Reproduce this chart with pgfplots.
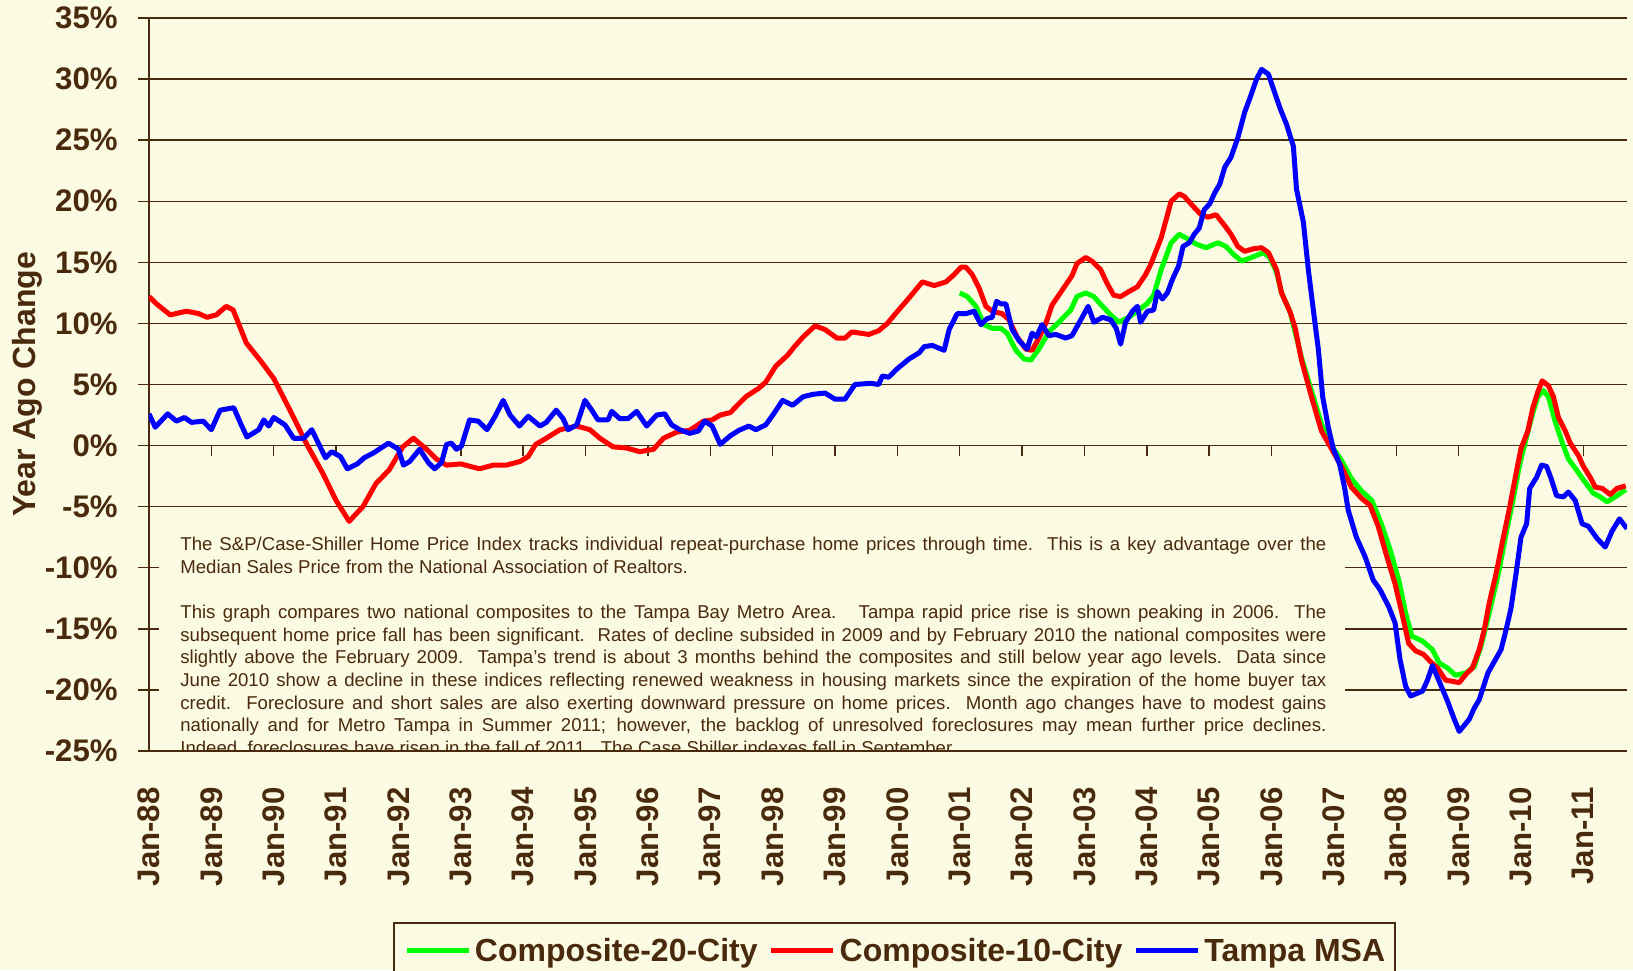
\documentclass[border=0pt]{standalone}
\usepackage{fontspec}
\setmainfont{Liberation Sans}
\usepackage{pgfplots}
\pgfplotsset{compat=1.18}
\definecolor{bg}{HTML}{FBFAE3}
\definecolor{tx}{HTML}{4A2A0C}
\definecolor{cg}{HTML}{00FF00}
\definecolor{cr}{HTML}{FF0000}
\definecolor{cb}{HTML}{0000FF}
\begin{document}
\begin{tikzpicture}
\fill[bg] (-74.5pt,-109.5pt) rectangle (742pt,375.5pt);
\begin{axis}[
  at={(0pt,0pt)}, anchor=south west,
  scale only axis, width=739pt, height=366.5pt,
  xmin=1988, xmax=2011.7, ymin=-25, ymax=35,
  axis lines*=left,
  axis line style={tx, line width=0.7pt},
  ytick={-25,-20,...,35},
  ymajorgrids, grid style={tx, line width=0.7pt},
  xtick={1988,...,2011},
  xticklabels={Jan-88,Jan-89,Jan-90,Jan-91,Jan-92,Jan-93,Jan-94,Jan-95,Jan-96,Jan-97,Jan-98,Jan-99,Jan-00,Jan-01,Jan-02,Jan-03,Jan-04,Jan-05,Jan-06,Jan-07,Jan-08,Jan-09,Jan-10,Jan-11},
  x tick style={draw=none},
  y tick style={tx, line width=0.7pt},
  major tick length=5.5pt, tick align=outside,
  yticklabel={\pgfmathprintnumber{\tick}\%},
  /pgf/number format/assume math mode=true,
  tick label style={font=\bfseries\fontsize{15.6}{18}\selectfont, text=tx},
  xticklabel style={rotate=90, anchor=east, inner sep=0pt},
  yticklabel style={anchor=east, inner sep=0pt},
  xticklabel shift=12.5pt, yticklabel shift=10pt,
  legend columns=-1,
  legend style={
    at={(axis description cs:0,0)}, anchor=north west, xshift=122pt, yshift=-85.5pt,
    draw=tx, line width=1pt, fill=bg,
    font=\bfseries\fontsize{16}{19}\selectfont, text=tx,
    inner xsep=5pt, inner ysep=7.7pt,
    nodes={inner sep=0pt, text height=11.6pt, text depth=0pt},
    /tikz/every odd column/.append style={column sep=2pt},
    /tikz/every even column/.append style={column sep=5.5pt},
  },
  legend image code/.code={\draw[#1, line width=2.5pt] (0pt,0pt) -- (31pt,0pt);},
]
% text box
\fill[bg] (rel axis cs:0.00677,0) rectangle (rel axis cs:0.8092,0.3056);
\begin{scope}
\clip (rel axis cs:0,0) rectangle (rel axis cs:1,1);
\node[anchor=north west, inner sep=0pt, text width=573pt, align=justify,
      font=\fontsize{9.3}{11.3}\selectfont, text=tx] at (rel axis cs:0.02097,0.2920) {%
The S\&P/Case-Shiller Home Price Index tracks individual repeat-purchase home prices through time.\ \ This is a key advantage over the\linebreak
Median Sales Price from the National Association of Realtors.\par\vspace{11.3pt}
This graph compares two national composites to the Tampa Bay Metro Area.\ \ \ Tampa rapid price rise is shown peaking in 2006.\ \ The\linebreak
subsequent home price fall has been significant.\ \ Rates of decline subsided in 2009 and by February 2010 the national composites were\linebreak
slightly above the February 2009.\ \ Tampa’s trend is about 3 months behind the composites and still below year ago levels.\ \ Data since\linebreak
June 2010 show a decline in these indices reflecting renewed weakness in housing markets since the expiration of the home buyer tax\linebreak
credit.\ \ Foreclosure and short sales are also exerting downward pressure on home prices.\ \ Month ago changes have to modest gains\linebreak
nationally and for Metro Tampa in Summer 2011; however, the backlog of unresolved foreclosures may mean further price declines.\linebreak
Indeed, foreclosures have risen in the fall of 2011.\ \ The Case Shiller indexes fell in September.};
\end{scope}
\draw[tx, line width=0.7pt] (rel axis cs:0,0) -- (rel axis cs:1,0);
\pgfplotsinvokeforeach{1989,...,2011}{\draw[tx, line width=0.7pt] (axis cs:#1,0) -- ++(0pt,-5.3pt);}

% Composite-20-City
\addplot[cg, line width=2.5pt, line join=round] coordinates {
(2001.0,12.5) (2001.12,12.2) (2001.26,11.4) (2001.39,9.9) (2001.52,9.6) (2001.66,9.6) (2001.76,9.2) (2001.9,7.8) (2002.03,7.1) (2002.14,7.0) (2002.27,7.9) (2002.43,9.3) (2002.59,10.1) (2002.78,11.1) (2002.88,12.2) (2003.02,12.5) (2003.15,12.2) (2003.29,11.4) (2003.42,10.7) (2003.55,10.1) (2003.71,10.5) (2003.87,11.1) (2004.0,11.6) (2004.11,12.3) (2004.23,14.4) (2004.39,16.6) (2004.52,17.3) (2004.66,16.9) (2004.79,16.5) (2004.95,16.2) (2005.14,16.6) (2005.27,16.3) (2005.38,15.7) (2005.52,15.1) (2005.68,15.4) (2005.87,15.8) (2005.97,15.4) (2006.08,14.2) (2006.16,12.5) (2006.3,10.9) (2006.48,7.2) (2006.62,4.8) (2006.8,1.8) (2006.96,0.0) (2007.12,-1.2) (2007.28,-2.7) (2007.44,-3.7) (2007.61,-4.5) (2007.76,-6.4) (2007.9,-8.5) (2008.04,-11.0) (2008.15,-13.7) (2008.25,-15.6) (2008.42,-16.0) (2008.58,-16.7) (2008.69,-17.8) (2008.82,-18.2) (2008.95,-18.8) (2009.12,-18.6) (2009.25,-18.1) (2009.36,-16.4) (2009.49,-13.7) (2009.65,-10.2) (2009.76,-7.2) (2009.87,-4.5) (2009.98,-1.5) (2010.09,0.7) (2010.19,2.7) (2010.27,4.0) (2010.36,4.5) (2010.44,4.0) (2010.54,2.1) (2010.65,0.4) (2010.76,-1.1) (2010.89,-2.0) (2011.0,-2.8) (2011.16,-3.9) (2011.27,-4.2) (2011.38,-4.6) (2011.51,-4.2) (2011.68,-3.6)
};
\addlegendentry{Composite-20-City}
% Composite-10-City
\addplot[cr, line width=2.5pt, line join=round] coordinates {
(1988.00,12.2) (1988.12,11.6) (1988.34,10.7) (1988.6,11.0) (1988.8,10.8) (1988.93,10.5) (1989.08,10.7) (1989.24,11.4) (1989.35,11.1) (1989.56,8.4) (1989.78,7.0) (1990.0,5.5) (1990.15,4.0) (1990.31,2.4) (1990.52,0.2) (1990.79,-2.3) (1991.0,-4.5) (1991.21,-6.2) (1991.43,-5.0) (1991.64,-3.1) (1991.85,-2.0) (1992.07,-0.1) (1992.24,0.6) (1992.45,-0.3) (1992.61,-1.1) (1992.77,-1.6) (1993.0,-1.5) (1993.3,-1.9) (1993.52,-1.6) (1993.73,-1.6) (1993.95,-1.3) (1994.08,-0.9) (1994.2,0.1) (1994.37,0.6) (1994.59,1.3) (1994.86,1.6) (1995.07,1.3) (1995.23,0.6) (1995.44,-0.1) (1995.66,-0.2) (1995.87,-0.5) (1996.09,-0.3) (1996.25,0.6) (1996.46,1.1) (1996.67,1.25) (1996.89,2.0) (1997.03,2.1) (1997.16,2.5) (1997.32,2.7) (1997.57,4.0) (1997.78,4.7) (1997.89,5.2) (1998.05,6.5) (1998.24,7.4) (1998.35,8.1) (1998.49,8.9) (1998.68,9.8) (1998.84,9.5) (1999.03,8.8) (1999.16,8.8) (1999.27,9.3) (1999.41,9.2) (1999.54,9.1) (1999.7,9.4) (1999.84,10.0) (1999.97,10.8) (2000.19,12.1) (2000.4,13.4) (2000.59,13.1) (2000.78,13.4) (2000.91,14.0) (2001.02,14.6) (2001.1,14.6) (2001.2,14.0) (2001.31,12.9) (2001.42,11.4) (2001.52,11.0) (2001.68,10.8) (2001.79,10.3) (2001.92,8.9) (2002.06,7.9) (2002.16,7.8) (2002.27,8.8) (2002.38,10.0) (2002.48,11.5) (2002.64,12.7) (2002.8,13.9) (2002.88,14.9) (2003.02,15.4) (2003.12,15.1) (2003.26,14.4) (2003.36,13.3) (2003.47,12.3) (2003.58,12.2) (2003.71,12.6) (2003.85,13.0) (2003.98,14.0) (2004.06,14.8) (2004.23,17.0) (2004.39,20.0) (2004.52,20.6) (2004.6,20.4) (2004.74,19.6) (2004.87,18.9) (2004.98,18.7) (2005.11,18.9) (2005.25,18.0) (2005.35,17.3) (2005.46,16.3) (2005.57,15.9) (2005.7,16.1) (2005.84,16.2) (2005.95,15.8) (2006.08,14.4) (2006.16,12.5) (2006.3,10.9) (2006.38,9.6) (2006.48,7.0) (2006.64,4.0) (2006.8,1.2) (2006.96,-0.25) (2007.12,-1.7) (2007.28,-3.4) (2007.44,-4.3) (2007.58,-4.9) (2007.71,-6.6) (2007.85,-9.1) (2007.98,-11.3) (2008.09,-13.7) (2008.2,-16.2) (2008.31,-16.8) (2008.44,-17.1) (2008.55,-17.7) (2008.66,-18.2) (2008.79,-19.2) (2009.01,-19.4) (2009.12,-18.7) (2009.22,-18.2) (2009.33,-16.7) (2009.41,-15.1) (2009.49,-12.9) (2009.6,-10.5) (2009.71,-7.7) (2009.82,-5.0) (2009.92,-2.3) (2010.0,-0.25) (2010.11,1.2) (2010.19,3.1) (2010.27,4.4) (2010.34,5.3) (2010.44,4.9) (2010.52,4.0) (2010.6,2.3) (2010.71,1.2) (2010.79,0.2) (2010.92,-0.8) (2011.0,-1.7) (2011.11,-2.6) (2011.19,-3.4) (2011.3,-3.5) (2011.43,-4.0) (2011.54,-3.5) (2011.68,-3.3)
};
\addlegendentry{Composite-10-City}
% Tampa MSA
\addplot[cb, line width=2.5pt, line join=round] coordinates {
(1988.0,2.6) (1988.1,1.5) (1988.3,2.6) (1988.44,2.0) (1988.57,2.3) (1988.68,1.9) (1988.87,2.0) (1989.0,1.3) (1989.14,2.9) (1989.36,3.1) (1989.47,1.8) (1989.57,0.7) (1989.76,1.3) (1989.84,2.1) (1989.92,1.6) (1990.0,2.3) (1990.18,1.7) (1990.32,0.6) (1990.48,0.6) (1990.61,1.3) (1990.83,-1.0) (1990.93,-0.5) (1991.07,-0.9) (1991.18,-1.9) (1991.34,-1.5) (1991.45,-1.0) (1991.6,-0.6) (1991.84,0.2) (1992.0,-0.3) (1992.08,-1.6) (1992.18,-1.3) (1992.34,-0.3) (1992.48,-1.4) (1992.58,-1.9) (1992.69,-1.4) (1992.77,0.1) (1992.85,0.2) (1992.93,-0.3) (1993.01,-0.05) (1993.14,2.1) (1993.28,2.0) (1993.42,1.3) (1993.55,2.4) (1993.68,3.7) (1993.79,2.5) (1993.94,1.6) (1994.08,2.4) (1994.27,1.6) (1994.37,1.9) (1994.53,2.9) (1994.64,2.2) (1994.72,1.3) (1994.86,1.7) (1994.99,3.7) (1995.1,2.9) (1995.2,2.1) (1995.36,2.1) (1995.42,2.8) (1995.55,2.2) (1995.68,2.2) (1995.82,2.8) (1995.98,1.6) (1996.14,2.5) (1996.27,2.6) (1996.38,1.7) (1996.51,1.3) (1996.67,1.0) (1996.81,1.2) (1996.91,2.0) (1997.03,1.6) (1997.16,0.1) (1997.32,0.8) (1997.46,1.25) (1997.62,1.6) (1997.73,1.3) (1997.89,1.7) (1998.03,2.7) (1998.16,3.7) (1998.32,3.3) (1998.49,4.0) (1998.65,4.2) (1998.84,4.3) (1999.0,3.8) (1999.16,3.8) (1999.32,5.0) (1999.57,5.1) (1999.7,5.0) (1999.76,5.7) (1999.86,5.6) (2000.0,6.3) (2000.19,7.1) (2000.35,7.6) (2000.43,8.1) (2000.56,8.2) (2000.75,7.8) (2000.83,9.5) (2000.96,10.8) (2001.1,10.8) (2001.23,11.0) (2001.34,9.9) (2001.44,10.4) (2001.52,10.5) (2001.59,11.8) (2001.66,11.6) (2001.74,11.6) (2001.84,9.5) (2001.95,8.6) (2002.08,7.9) (2002.16,9.2) (2002.23,8.9) (2002.32,9.9) (2002.43,9.0) (2002.54,9.1) (2002.7,8.8) (2002.8,9.0) (2002.91,10.0) (2003.06,11.4) (2003.15,10.1) (2003.29,10.5) (2003.42,10.3) (2003.51,9.6) (2003.58,8.3) (2003.66,10.1) (2003.77,11.0) (2003.85,11.4) (2003.9,10.1) (2004.01,11.0) (2004.11,11.1) (2004.17,12.6) (2004.25,12.0) (2004.33,12.5) (2004.41,13.6) (2004.51,14.7) (2004.58,16.3) (2004.68,16.6) (2004.76,17.3) (2004.84,17.8) (2004.92,19.3) (2005.01,19.8) (2005.09,20.7) (2005.17,21.4) (2005.25,22.8) (2005.35,23.6) (2005.46,25.2) (2005.57,27.3) (2005.65,28.4) (2005.76,30.0) (2005.84,30.8) (2005.95,30.4) (2006.03,29.2) (2006.13,27.7) (2006.24,26.3) (2006.35,24.5) (2006.4,21.0) (2006.51,18.3) (2006.59,14.4) (2006.67,11.1) (2006.75,7.9) (2006.82,4.0) (2006.91,1.5) (2006.99,-0.25) (2007.09,-1.5) (2007.17,-3.4) (2007.23,-5.3) (2007.36,-7.5) (2007.5,-9.1) (2007.63,-11.0) (2007.74,-11.8) (2007.88,-13.2) (2007.98,-14.5) (2008.06,-17.5) (2008.15,-19.7) (2008.23,-20.5) (2008.42,-20.1) (2008.5,-19.2) (2008.58,-18.0) (2008.68,-19.2) (2008.82,-20.9) (2008.93,-22.4) (2009.01,-23.4) (2009.09,-22.9) (2009.17,-22.4) (2009.25,-21.5) (2009.33,-20.8) (2009.47,-18.6) (2009.57,-17.7) (2009.68,-16.7) (2009.76,-15.1) (2009.84,-13.3) (2009.92,-10.5) (2010.0,-7.5) (2010.09,-6.4) (2010.14,-3.5) (2010.25,-2.6) (2010.33,-1.6) (2010.41,-1.7) (2010.49,-2.8) (2010.57,-4.1) (2010.68,-4.2) (2010.76,-3.8) (2010.87,-4.5) (2010.98,-6.4) (2011.08,-6.6) (2011.22,-7.6) (2011.35,-8.3) (2011.46,-7.0) (2011.58,-6.0) (2011.7,-6.8)
};
\addlegendentry{Tampa MSA}
\end{axis}
\node[rotate=90, font=\bfseries\fontsize{16}{19}\selectfont, text=tx] at (-61pt,183.25pt) {Year Ago Change};
\pgfresetboundingbox
\path[use as bounding box] (-74.5pt,-109.5pt) rectangle (742pt,375.5pt);
\end{tikzpicture}
\end{document}
